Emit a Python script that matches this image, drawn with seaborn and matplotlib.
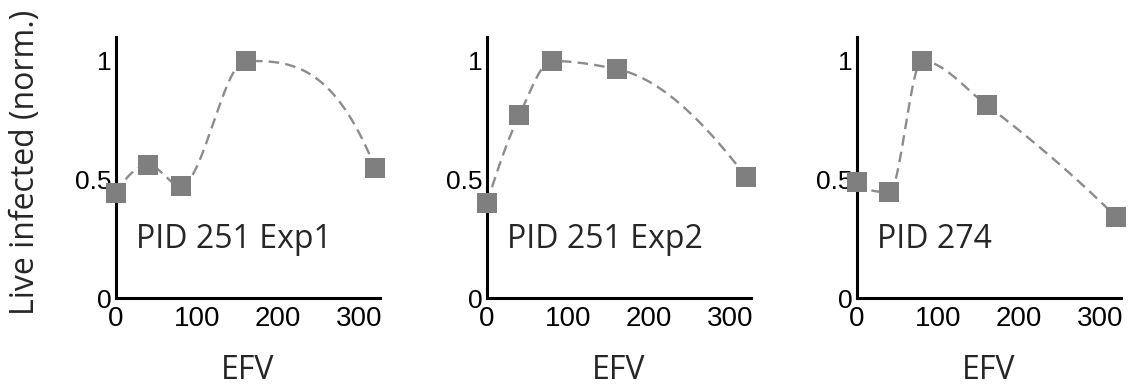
import numpy as np
import pandas as pd
import matplotlib
matplotlib.use("Agg")
import matplotlib.pyplot as plt
import seaborn as sns

# ── data ────────────────────────────────────────────────────────────────
efv = [0, 40, 80, 160, 320]
exp1 = [0.443, 0.561, 0.473, 1.0, 0.549]
exp2 = [0.40, 0.772, 1.0, 0.966, 0.511]
pid274 = [0.489, 0.447, 1.0, 0.814, 0.342]
panel_names = ["PID 251 Exp1", "PID 251 Exp2", "PID 274"]
x_ticks = [0, 100, 200, 300]
y_ticks = [0, 0.5, 1]
y_ticklabels = ["0", "0.5", "1"]

MARKER_COLOR = "#7f7f7f"
LINE_COLOR = "#8c8c8c"
TICK_FONT = "Liberation Sans"
TEXT_FONT = "Open Sans"


def pchip_curve(x, y, n=300):
    # shape-preserving cubic through the measured points (for the dashed guide)
    x = np.asarray(x, float)
    y = np.asarray(y, float)
    h = np.diff(x)
    delta = np.diff(y) / h
    d = np.zeros_like(y)
    for k in range(1, len(x) - 1):
        if delta[k - 1] * delta[k] > 0:
            w1 = 2 * h[k] + h[k - 1]
            w2 = h[k] + 2 * h[k - 1]
            d[k] = (w1 + w2) / (w1 / delta[k - 1] + w2 / delta[k])

    def end_slope(h0, h1, d0, d1):
        s = ((2 * h0 + h1) * d0 - h0 * d1) / (h0 + h1)
        if np.sign(s) != np.sign(d0):
            s = 0.0
        elif np.sign(d0) != np.sign(d1) and abs(s) > abs(3 * d0):
            s = 3 * d0
        return s

    d[0] = end_slope(h[0], h[1], delta[0], delta[1])
    d[-1] = end_slope(h[-1], h[-2], delta[-1], delta[-2])

    xs = np.linspace(x[0], x[-1], n)
    idx = np.clip(np.searchsorted(x, xs) - 1, 0, len(h) - 1)
    t = (xs - x[idx]) / h[idx]
    h00 = 2 * t**3 - 3 * t**2 + 1
    h10 = t**3 - 2 * t**2 + t
    h01 = -2 * t**3 + 3 * t**2
    h11 = t**3 - t**2
    ys = (h00 * y[idx] + h10 * h[idx] * d[idx]
          + h01 * y[idx + 1] + h11 * h[idx] * d[idx + 1])
    return xs, ys


sns.set_style("white")
fig = plt.figure(figsize=(11.34, 3.87), dpi=100)

lefts_px = [116, 487, 857]
ax_w = 264 / 1134
ax_b = (387 - 298) / 387
ax_h = (298 - 37) / 387

for i, (name, vals) in enumerate(zip(panel_names, [exp1, exp2, pid274])):
    ax = fig.add_axes([lefts_px[i] / 1134, ax_b, ax_w, ax_h])
    df = pd.DataFrame({"EFV": efv, "live": vals})
    xs, ys = pchip_curve(efv, vals)
    curve = pd.DataFrame({"EFV": xs, "live": ys})

    sns.lineplot(data=curve, x="EFV", y="live", ax=ax, color=LINE_COLOR,
                 linewidth=1.7, dashes=False, clip_on=False)
    ax.lines[-1].set_dashes([4.5, 2.6])
    sns.scatterplot(data=df, x="EFV", y="live", ax=ax, marker="s", s=205,
                    color=MARKER_COLOR, edgecolor="none", clip_on=False,
                    zorder=5)

    ax.set_xlim(0, 326)
    ax.set_ylim(0, 1.101)
    ax.tick_params(axis="both", direction="in", length=2.5, width=0.8,
                   colors="black")
    ax.tick_params(axis="x", pad=6, labelsize=20)
    ax.tick_params(axis="y", pad=3, labelsize=19)
    ax.set_xticks(x_ticks)
    ax.set_xticklabels([str(t) for t in x_ticks], family=TICK_FONT)
    ax.set_yticks(y_ticks)
    ax.set_yticklabels(y_ticklabels, family=TICK_FONT)

    for side in ["top", "right"]:
        ax.spines[side].set_visible(False)
    for side in ["left", "bottom"]:
        ax.spines[side].set_color("black")
        ax.spines[side].set_linewidth(2.2)

    ax.set_xlabel("EFV", fontsize=23, family=TEXT_FONT, va="top")
    ax.xaxis.set_label_coords(0.5, -0.215)
    if i == 0:
        ax.set_ylabel("Live infected (norm.)", fontsize=23, family=TEXT_FONT)
        ax.yaxis.set_label_coords(-0.28, 0.52)
    else:
        ax.set_ylabel("")

    ax.text(25, 0.245, name, fontsize=23, family=TEXT_FONT, ha="left",
            va="center")

fig.savefig("out.png", dpi=100)
